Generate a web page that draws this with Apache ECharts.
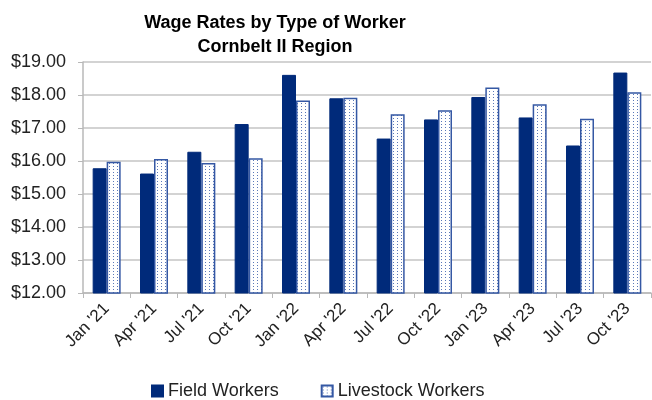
<!DOCTYPE html>
<html>
<head>
<meta charset="utf-8">
<script src="https://cdn.jsdelivr.net/npm/echarts@6/dist/echarts.min.js"></script>
<style>
  html, body { margin: 0; padding: 0; background: #fff; }
  #chart { width: 652px; height: 400px; }
</style>
</head>
<body>
<div id="chart"></div>
<script>
const categories = ["Jan '21", "Apr '21", "Jul '21", "Oct '21", "Jan '22", "Apr '22",
  "Jul '22", "Oct '22", "Jan '23", "Apr '23", "Jul '23", "Oct '23"]
const fieldWorkers = [15.78, 15.62, 16.28, 17.12, 18.61, 17.90, 16.68, 17.26, 17.94, 17.32, 16.47, 18.68]
const livestockWorkers = [15.98, 16.06, 15.94, 16.08, 17.83, 17.92, 17.42, 17.54, 18.23, 17.72, 17.28, 18.08]

// dotted fill for the livestock bars
function makeDots () {
  const c = document.createElement('canvas')
  c.width = 4
  c.height = 3
  const ctx = c.getContext('2d')
  ctx.fillStyle = '#ffffff'
  ctx.fillRect(0, 0, 4, 3)
  ctx.fillStyle = '#5a78b8'
  ctx.fillRect(1, 1, 1, 1)
  return c
}

const chart = echarts.init(document.getElementById('chart'), null, { renderer: 'canvas' })
const font = 'Liberation Sans, Arial, sans-serif'

chart.setOption({
  animation: false,
  title: {
    text: 'Wage Rates by Type of Worker\nCornbelt II Region',
    left: 270,
    textAlign: 'center',
    top: 6,
    textStyle: { fontFamily: font, fontSize: 18, fontWeight: 'bold', color: '#000', lineHeight: 24 }
  },
  legend: {
    top: 377,
    left: 146,
    itemGap: 42,
    itemWidth: 11,
    itemHeight: 11,
    icon: 'rect',
    textStyle: { fontFamily: font, fontSize: 18, color: '#222' },
    data: ['Field Workers', 'Livestock Workers']
  },
  grid: { left: 83, right: 1, top: 62, bottom: 107 },
  xAxis: {
    type: 'category',
    data: categories,
    axisLine: { lineStyle: { color: '#b8b8b8', width: 1.5 } },
    axisTick: { show: true, length: 5, lineStyle: { color: '#b8b8b8' } },
    axisLabel: { rotate: 45, fontFamily: font, fontSize: 17, color: '#222', margin: 13 }
  },
  yAxis: {
    type: 'value',
    min: 12,
    max: 19,
    interval: 1,
    axisLine: { show: true, lineStyle: { color: '#b8b8b8', width: 1.5 } },
    axisTick: { show: true, length: 5, lineStyle: { color: '#b8b8b8' } },
    splitLine: { lineStyle: { color: '#c4c4c4', width: 1.5 } },
    axisLabel: {
      fontFamily: font, fontSize: 18, color: '#222', margin: 17,
      formatter: v => '$' + v.toFixed(2)
    }
  },
  series: [
    {
      name: 'Field Workers',
      type: 'bar',
      data: fieldWorkers,
      barWidth: 14,
      barGap: '0%',
      itemStyle: { color: '#002a7a', borderColor: '#002a7a', borderWidth: 1 }
    },
    {
      name: 'Livestock Workers',
      type: 'bar',
      data: livestockWorkers,
      barWidth: 14,
      itemStyle: {
        color: { image: makeDots(), repeat: 'repeat' },
        borderColor: '#3558a4',
        borderWidth: 1.5
      }
    }
  ]
})
</script>
</body>
</html>
